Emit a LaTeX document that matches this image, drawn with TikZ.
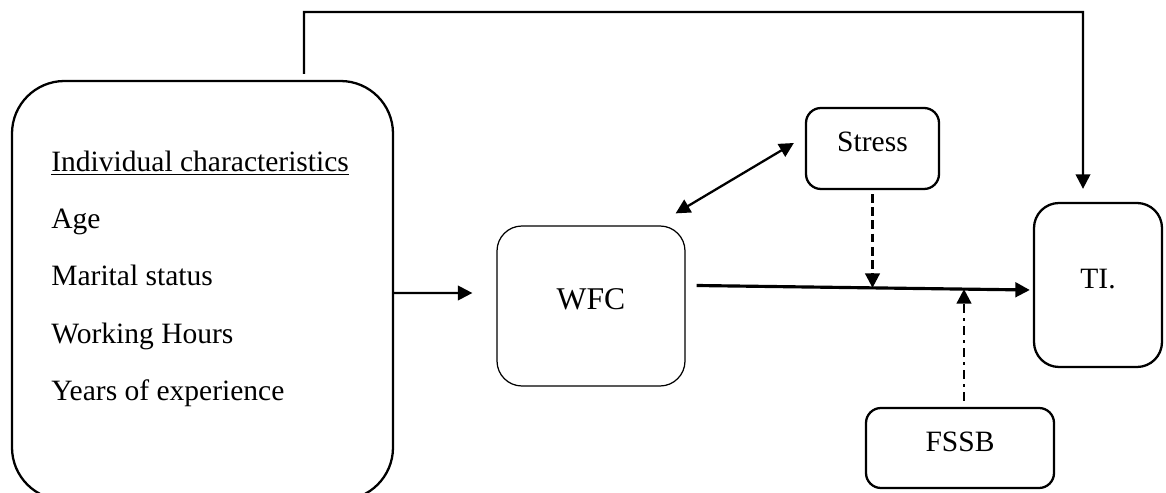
\documentclass[tikz,border=0pt]{standalone}
\usepackage{fontspec}
\setmainfont{Liberation Serif}
\usetikzlibrary{arrows.meta,positioning}

\begin{document}
\begin{tikzpicture}[
    box/.style={draw, line width=1.3pt, rounded corners=3mm, inner sep=0pt,
        text height=5mm, text depth=3.6mm, font=\fontsize{16.8}{20}\selectfont},
    item/.style={anchor=base west, inner sep=0pt, font=\fontsize{16.8}{20}\selectfont},
    tip/.style={Triangle[length=2.9mm,width=2.9mm]},
    arr/.style={line width=1.3pt, -{Triangle[length=2.9mm,width=2.9mm]}}]

\useasboundingbox (0,0) rectangle (23.32,9.84);

% Boxes
\node[  box,
        rounded corners=10.5mm,
        minimum width=7.62cm, minimum height=8.38cm
    ] (indiv) at (4.05,4.03) {};
\node[  box,
        line width=0.7pt,
        rounded corners=5mm,
        minimum width=3.76cm, minimum height=3.2cm,
        font=\fontsize{18}{21}\selectfont
    ] (wfc) at (11.82,3.72) {WFC};
\node[  box,
        minimum width=2.66cm, minimum height=1.62cm
    ] (stress) at (17.45,6.87) {Stress};
\node[  box,
        rounded corners=5mm,
        minimum width=2.56cm, minimum height=3.28cm
    ] (ti) at (21.96,4.14) {TI.};
\node[  box,
        minimum width=3.76cm, minimum height=1.6cm
    ] (fssb) at (19.2,0.88) {FSSB};

% Individual characteristics
\node[item] (chartitle) at (1.02,6.40) {\underline{Individual characteristics}};
\node[item] (age) at (1.02,5.26) {Age};
\node[item] (marital) at (1.02,4.12) {Marital status};
\node[item] (hours) at (1.02,2.98) {Working Hours};
\node[item] (years) at (1.02,1.84) {Years of experience};

% Arrows
\draw[arr] ([yshift=-0.5mm]indiv.east) -- ([xshift=-4.8mm,yshift=2.6mm]wfc.west);
\draw[arr, line width=1.8pt] ([xshift=2.2mm,yshift=4.1mm]wfc.east)
    -- coordinate[pos=0.528] (mstress) coordinate[pos=0.8] (mfssb)
    ([xshift=-0.6mm,yshift=-1mm]ti.west);
\draw[arr, line width=1.5pt, dash pattern=on 5pt off 2.5pt] ([yshift=-0.8mm]stress.south)
    -- (stress.south |- mstress);
\draw[arr, line width=1.5pt, dash pattern=on 5pt off 3pt on 1.5pt off 3pt]
    ([xshift=0.8mm,yshift=1.2mm]fssb.north) -- ([xshift=0.8mm]fssb.north |- mfssb);
\draw[arr, {Triangle[length=2.9mm,width=2.9mm]}-{Triangle[length=2.9mm,width=2.9mm]}]
    ([xshift=-2mm,yshift=2.4mm]wfc.north east) -- ([xshift=-2.2mm,yshift=1.1mm]stress.west);
\coordinate (topright) at (21.66,9.6);
\draw[arr] ([xshift=2.03cm,yshift=1.2mm]indiv.north) |- (topright)
    -- ([xshift=-3mm,yshift=2.6mm]ti.north);

\end{tikzpicture}
\end{document}
